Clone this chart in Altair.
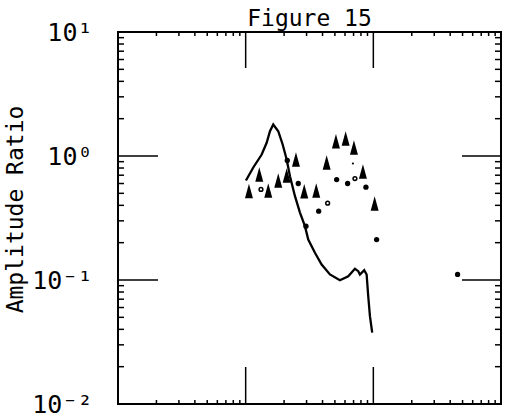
import altair as alt
import pandas as pd

# ---- data (x: arbitrary log axis 1..1000, y: amplitude ratio) ----
line_x = [10.05, 11.47, 13.35, 14.60, 15.50, 16.45, 18.00, 19.49, 20.95, 22.23, 24.33,
          26.62, 29.13, 30.92, 34.88, 39.37, 45.72, 54.74, 63.6, 71.76, 76.17, 78.54,
          84.86, 88.62, 91.22, 94.06, 98.0]
line_y = [0.634, 0.808, 1.028, 1.278, 1.585, 1.795, 1.585, 1.238, 0.937, 0.687, 0.474,
          0.350, 0.2716, 0.212, 0.1657, 0.1334, 0.1108, 0.0996, 0.1073, 0.1231, 0.1178,
          0.1108, 0.120, 0.1108, 0.0740, 0.0511, 0.0377]

tri_x = [10.61, 12.78, 15.03, 18.00, 20.95, 24.77, 28.76, 35.71, 43.09, 50.95, 60.69,
         70.49, 82.90, 102.4]
tri_y = [0.522, 0.709, 0.527, 0.634, 0.696, 0.937, 0.520, 0.527, 0.886, 1.316, 1.384,
         1.171, 0.750, 0.414]

dot_x = [21.18, 25.82, 37.30, 51.6, 62.9, 87.5, 106.1, 29.66, 457.0]
dot_y = [0.920, 0.600, 0.359, 0.646, 0.600, 0.560, 0.212, 0.2716, 0.1108]

tiny_x = [69.2]
tiny_y = [0.870]

open_x = [13.18, 43.87, 71.76]
open_y = [0.537, 0.416, 0.658]

y_decades = [10, 1, 0.1, 0.01]
y_major_inner = [1, 0.1]
x_major_inner = [10, 100]
multipliers = [2, 3, 4, 5, 6, 7, 8, 9]
x_decade_starts = [1, 10, 100]
y_decade_starts = [0.01, 0.1, 1]

W, H = 383, 372
FONT = "DejaVu Sans Mono"

xs = alt.Scale(type="log", domain=[1, 1000])
ys = alt.Scale(type="log", domain=[0.01, 10])

line_df = pd.DataFrame({"x": line_x, "y": line_y})
tri_df = pd.DataFrame({"x": tri_x, "y": tri_y})
dot_df = pd.DataFrame({"x": dot_x, "y": dot_y})
tiny_df = pd.DataFrame({"x": tiny_x, "y": tiny_y})
open_df = pd.DataFrame({"x": open_x, "y": open_y})
ymaj_df = pd.DataFrame({"y": y_major_inner})
xmaj_df = pd.DataFrame({"x": x_major_inner})
ymin_df = pd.DataFrame({"y": [d * m for d in y_decade_starts for m in multipliers]})
xmin_df = pd.DataFrame({"x": [d * m for d in x_decade_starts for m in multipliers]})

label_expr = ("datum.value >= 5 ? '10¹' : datum.value >= 0.5 ? '10⁰' : "
              "datum.value >= 0.05 ? '10⁻¹' : '10⁻²'")

base_line = alt.Chart(line_df).mark_line(color="black", strokeWidth=2.3).encode(
    x=alt.X("x:Q", scale=xs, axis=None),
    y=alt.Y("y:Q", scale=ys, axis=alt.Axis(
        values=y_decades, labelExpr=label_expr, ticks=False, domain=False, grid=False,
        labelFont=FONT, labelFontSize=25, labelColor="black", labelPadding=26,
        title="Amplitude Ratio", titleFont=FONT, titleFontSize=23, titleFontWeight="normal",
        titleColor="black", titleX=-103, titleY=177, titleBaseline="middle",
        titleAlign="center", titleAngle=270)),
)

tri = alt.Chart(tri_df).mark_point(
    shape="M0,-1L0.55,1L-0.55,1Z", filled=True, color="black", size=210, opacity=1
).encode(x=alt.X("x:Q", scale=xs), y=alt.Y("y:Q", scale=ys))

dots = alt.Chart(dot_df).mark_point(
    shape="circle", filled=True, color="black", size=28, opacity=1
).encode(x=alt.X("x:Q", scale=xs), y=alt.Y("y:Q", scale=ys))

tiny = alt.Chart(tiny_df).mark_point(
    shape="circle", filled=True, color="black", size=5, opacity=1
).encode(x=alt.X("x:Q", scale=xs), y=alt.Y("y:Q", scale=ys))

opens = alt.Chart(open_df).mark_point(
    shape="circle", filled=False, color="black", size=14, strokeWidth=1.5, opacity=1
).encode(x=alt.X("x:Q", scale=xs), y=alt.Y("y:Q", scale=ys))

def yrule(df, x0, x1):
    return alt.Chart(df).mark_rule(color="black", strokeWidth=1.5).encode(
        y=alt.Y("y:Q", scale=ys), x=alt.value(x0), x2=alt.value(x1))

def xrule(df, y0, y1):
    return alt.Chart(df).mark_rule(color="black", strokeWidth=1.5).encode(
        x=alt.X("x:Q", scale=xs), y=alt.value(y0), y2=alt.value(y1))

ticks = [
    yrule(ymaj_df, 0, 40), yrule(ymaj_df, W - 39, W),
    yrule(ymin_df, 0, 6), yrule(ymin_df, W - 6, W),
    xrule(xmaj_df, 0, 36), xrule(xmaj_df, H - 37, H),
    xrule(xmin_df, 0, 4), xrule(xmin_df, H - 4, H),
]

chart = alt.layer(base_line, tri, dots, tiny, opens, *ticks).properties(
    width=W, height=H,
    title=alt.TitleParams("Figure 15", font=FONT, fontSize=23, fontWeight="normal",
                          color="black", anchor="middle", offset=-11),
    autosize=alt.AutoSizeParams(type="none"),
    padding={"left": 118, "top": 32, "right": 5, "bottom": 13},
    background="white",
).configure_view(stroke="black", strokeWidth=2)

chart.save("out.html", embed_options={"renderer": "svg", "actions": False})
